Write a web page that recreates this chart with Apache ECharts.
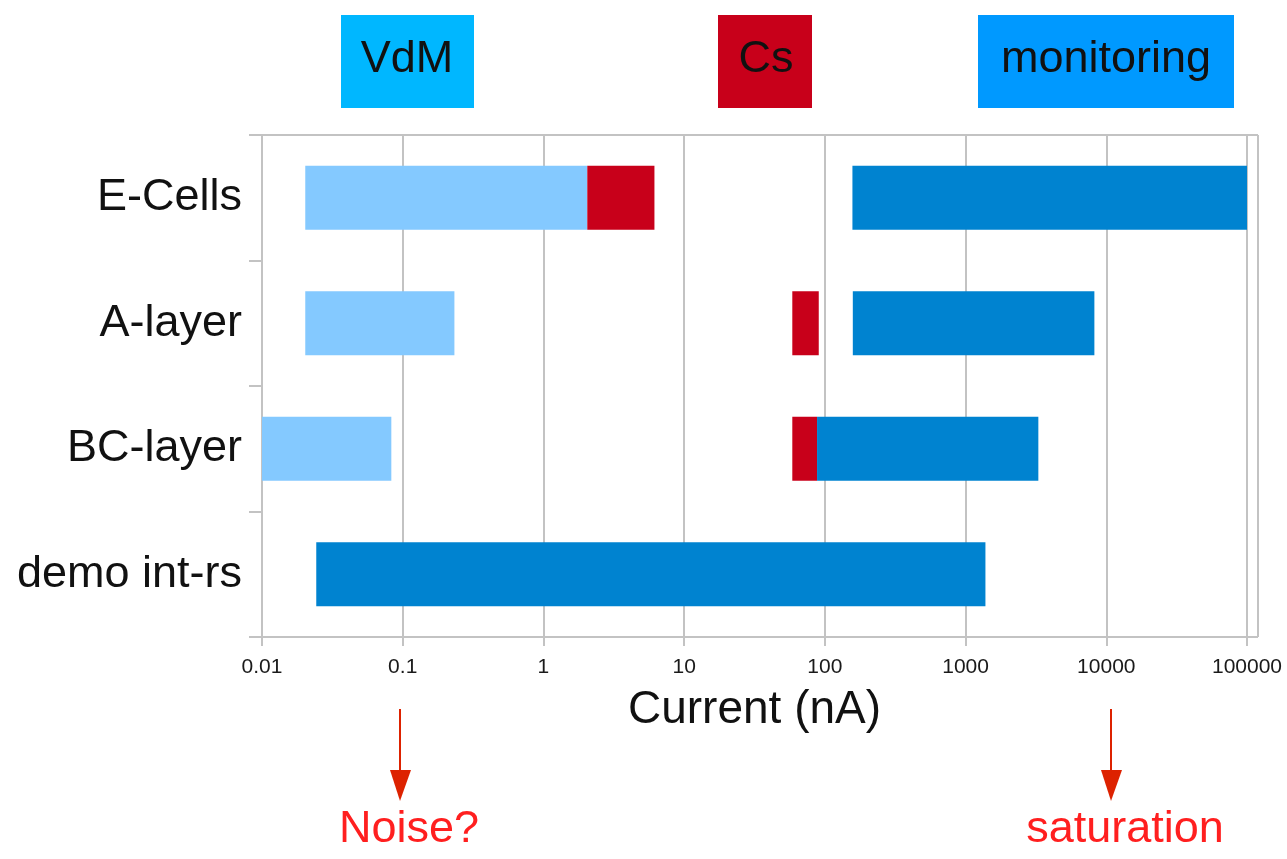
<!DOCTYPE html>
<html>
<head>
<meta charset="utf-8">
<title>Current ranges</title>
<script src="https://cdn.jsdelivr.net/npm/echarts@6/dist/echarts.min.js"></script>
<style>
  html, body { margin: 0; padding: 0; background: #ffffff; }
  #chart { width: 1287px; height: 859px; }
</style>
</head>
<body>
<div id="chart"></div>
<script>
// Detector rows, top to bottom
const categories = ['E-Cells', 'A-layer', 'BC-layer', 'demo int-rs'];

// Current ranges in nA: [row index, from, to]
const vdmRanges = [
  [0, 0.0203, 2.05],
  [1, 0.0203, 0.233],
  [2, 0.01, 0.083]
];
const csRanges = [
  [0, 2.05, 6.15],
  [1, 58.7, 90.5],
  [2, 58.7, 88]
];
const monitoringRanges = [
  [0, 157, 100000],
  [1, 158, 8230],
  [2, 88, 3290],
  [3, 0.0243, 1384]
];

// Decade ticks on the current axis
const tickLabels = ['0.01', '0.1', '1', '10', '100', '1000', '10000', '100000'];

const gridColor = '#c3c3c3';
const fontFamily = '"Liberation Sans", Arial, sans-serif';

function rangeItem(params, api) {
  const row = api.value(0);
  const start = api.coord([api.value(1), row]);
  const end = api.coord([api.value(2), row]);
  const h = api.size([1, 1])[1] * 0.51;
  return {
    type: 'rect',
    shape: { x: start[0], y: start[1] - h / 2, width: end[0] - start[0], height: h },
    style: { fill: api.visual('color') }
  };
}

function rangeSeries(name, data, color) {
  return {
    name: name,
    type: 'custom',
    renderItem: rangeItem,
    encode: { x: [1, 2], y: 0 },
    itemStyle: { color: color },
    data: data,
    z: 3
  };
}

const chart = echarts.init(document.getElementById('chart'), null, { renderer: 'canvas' });

const option = {
  backgroundColor: '#ffffff',
  animation: false,
  textStyle: { fontFamily: fontFamily },
  grid: { left: 262, right: 40, top: 135, bottom: 222, containLabel: false },
  xAxis: {
    type: 'log',
    logBase: 10,
    min: 0.01,
    max: 100000,
    name: 'Current (nA)',
    nameLocation: 'middle',
    nameGap: 50,
    nameTextStyle: { fontSize: 46, color: '#111111', fontFamily: fontFamily },
    axisLine: { show: true, lineStyle: { color: gridColor, width: 2 } },
    axisTick: { show: true, length: 9, lineStyle: { color: gridColor, width: 2 } },
    axisLabel: {
      fontSize: 21,
      color: '#1a1a1a',
      margin: 20,
      fontFamily: fontFamily,
      formatter: function (v) {
        const e = Math.round(Math.log10(v));
        return tickLabels[e + 2] !== undefined ? tickLabels[e + 2] : '';
      }
    },
    splitLine: { show: true, lineStyle: { color: gridColor, width: 2 } }
  },
  yAxis: {
    type: 'category',
    inverse: true,
    data: categories,
    axisLine: { show: true, lineStyle: { color: gridColor, width: 2 } },
    axisTick: { show: true, length: 13, lineStyle: { color: gridColor, width: 2 } },
    axisLabel: { fontSize: 45, color: '#111111', margin: 20, padding: [10, 0, 0, 0], fontFamily: fontFamily },
    splitLine: { show: false }
  },
  series: [
    rangeSeries('VdM', vdmRanges, '#84c9ff'),
    rangeSeries('Cs', csRanges, '#c8001a'),
    rangeSeries('monitoring', monitoringRanges, '#0083d0')
  ],
  graphic: [
    // plot frame: top and right edges
    { type: 'line', shape: { x1: 249, y1: 135, x2: 1258, y2: 135 }, style: { stroke: gridColor, lineWidth: 2 }, z: 1 },
    { type: 'line', shape: { x1: 1258, y1: 135, x2: 1258, y2: 637 }, style: { stroke: gridColor, lineWidth: 2 }, z: 1 },
    { type: 'line', shape: { x1: 1246, y1: 637, x2: 1258, y2: 637 }, style: { stroke: gridColor, lineWidth: 2 }, z: 1 },

    // key boxes
    { type: 'rect', shape: { x: 341, y: 15, width: 133, height: 93 }, style: { fill: '#00b7ff' } },
    { type: 'text', x: 407, y: 60, style: { text: 'VdM', fill: '#111111', font: '45px ' + fontFamily, align: 'center', verticalAlign: 'middle' } },
    { type: 'rect', shape: { x: 718, y: 15, width: 94, height: 93 }, style: { fill: '#c8001a' } },
    { type: 'text', x: 766, y: 60, style: { text: 'Cs', fill: '#111111', font: '45px ' + fontFamily, align: 'center', verticalAlign: 'middle' } },
    { type: 'rect', shape: { x: 978, y: 15, width: 256, height: 93 }, style: { fill: '#0099ff' } },
    { type: 'text', x: 1106, y: 60, style: { text: 'monitoring', fill: '#111111', font: '45px ' + fontFamily, align: 'center', verticalAlign: 'middle' } },

    // annotation arrows
    { type: 'line', shape: { x1: 400, y1: 709, x2: 400, y2: 775 }, style: { stroke: '#dd2200', lineWidth: 2 } },
    { type: 'polygon', shape: { points: [[390, 770], [411, 770], [400, 801]] }, style: { fill: '#dd2200' } },
    { type: 'text', x: 409, y: 830, style: { text: 'Noise?', fill: '#ff1f1f', font: '45px ' + fontFamily, align: 'center', verticalAlign: 'middle' } },
    { type: 'line', shape: { x1: 1111, y1: 709, x2: 1111, y2: 775 }, style: { stroke: '#dd2200', lineWidth: 2 } },
    { type: 'polygon', shape: { points: [[1101, 770], [1122, 770], [1111, 801]] }, style: { fill: '#dd2200' } },
    { type: 'text', x: 1125, y: 830, style: { text: 'saturation', fill: '#ff1f1f', font: '45px ' + fontFamily, align: 'center', verticalAlign: 'middle' } }
  ]
};

chart.setOption(option);
</script>
</body>
</html>
